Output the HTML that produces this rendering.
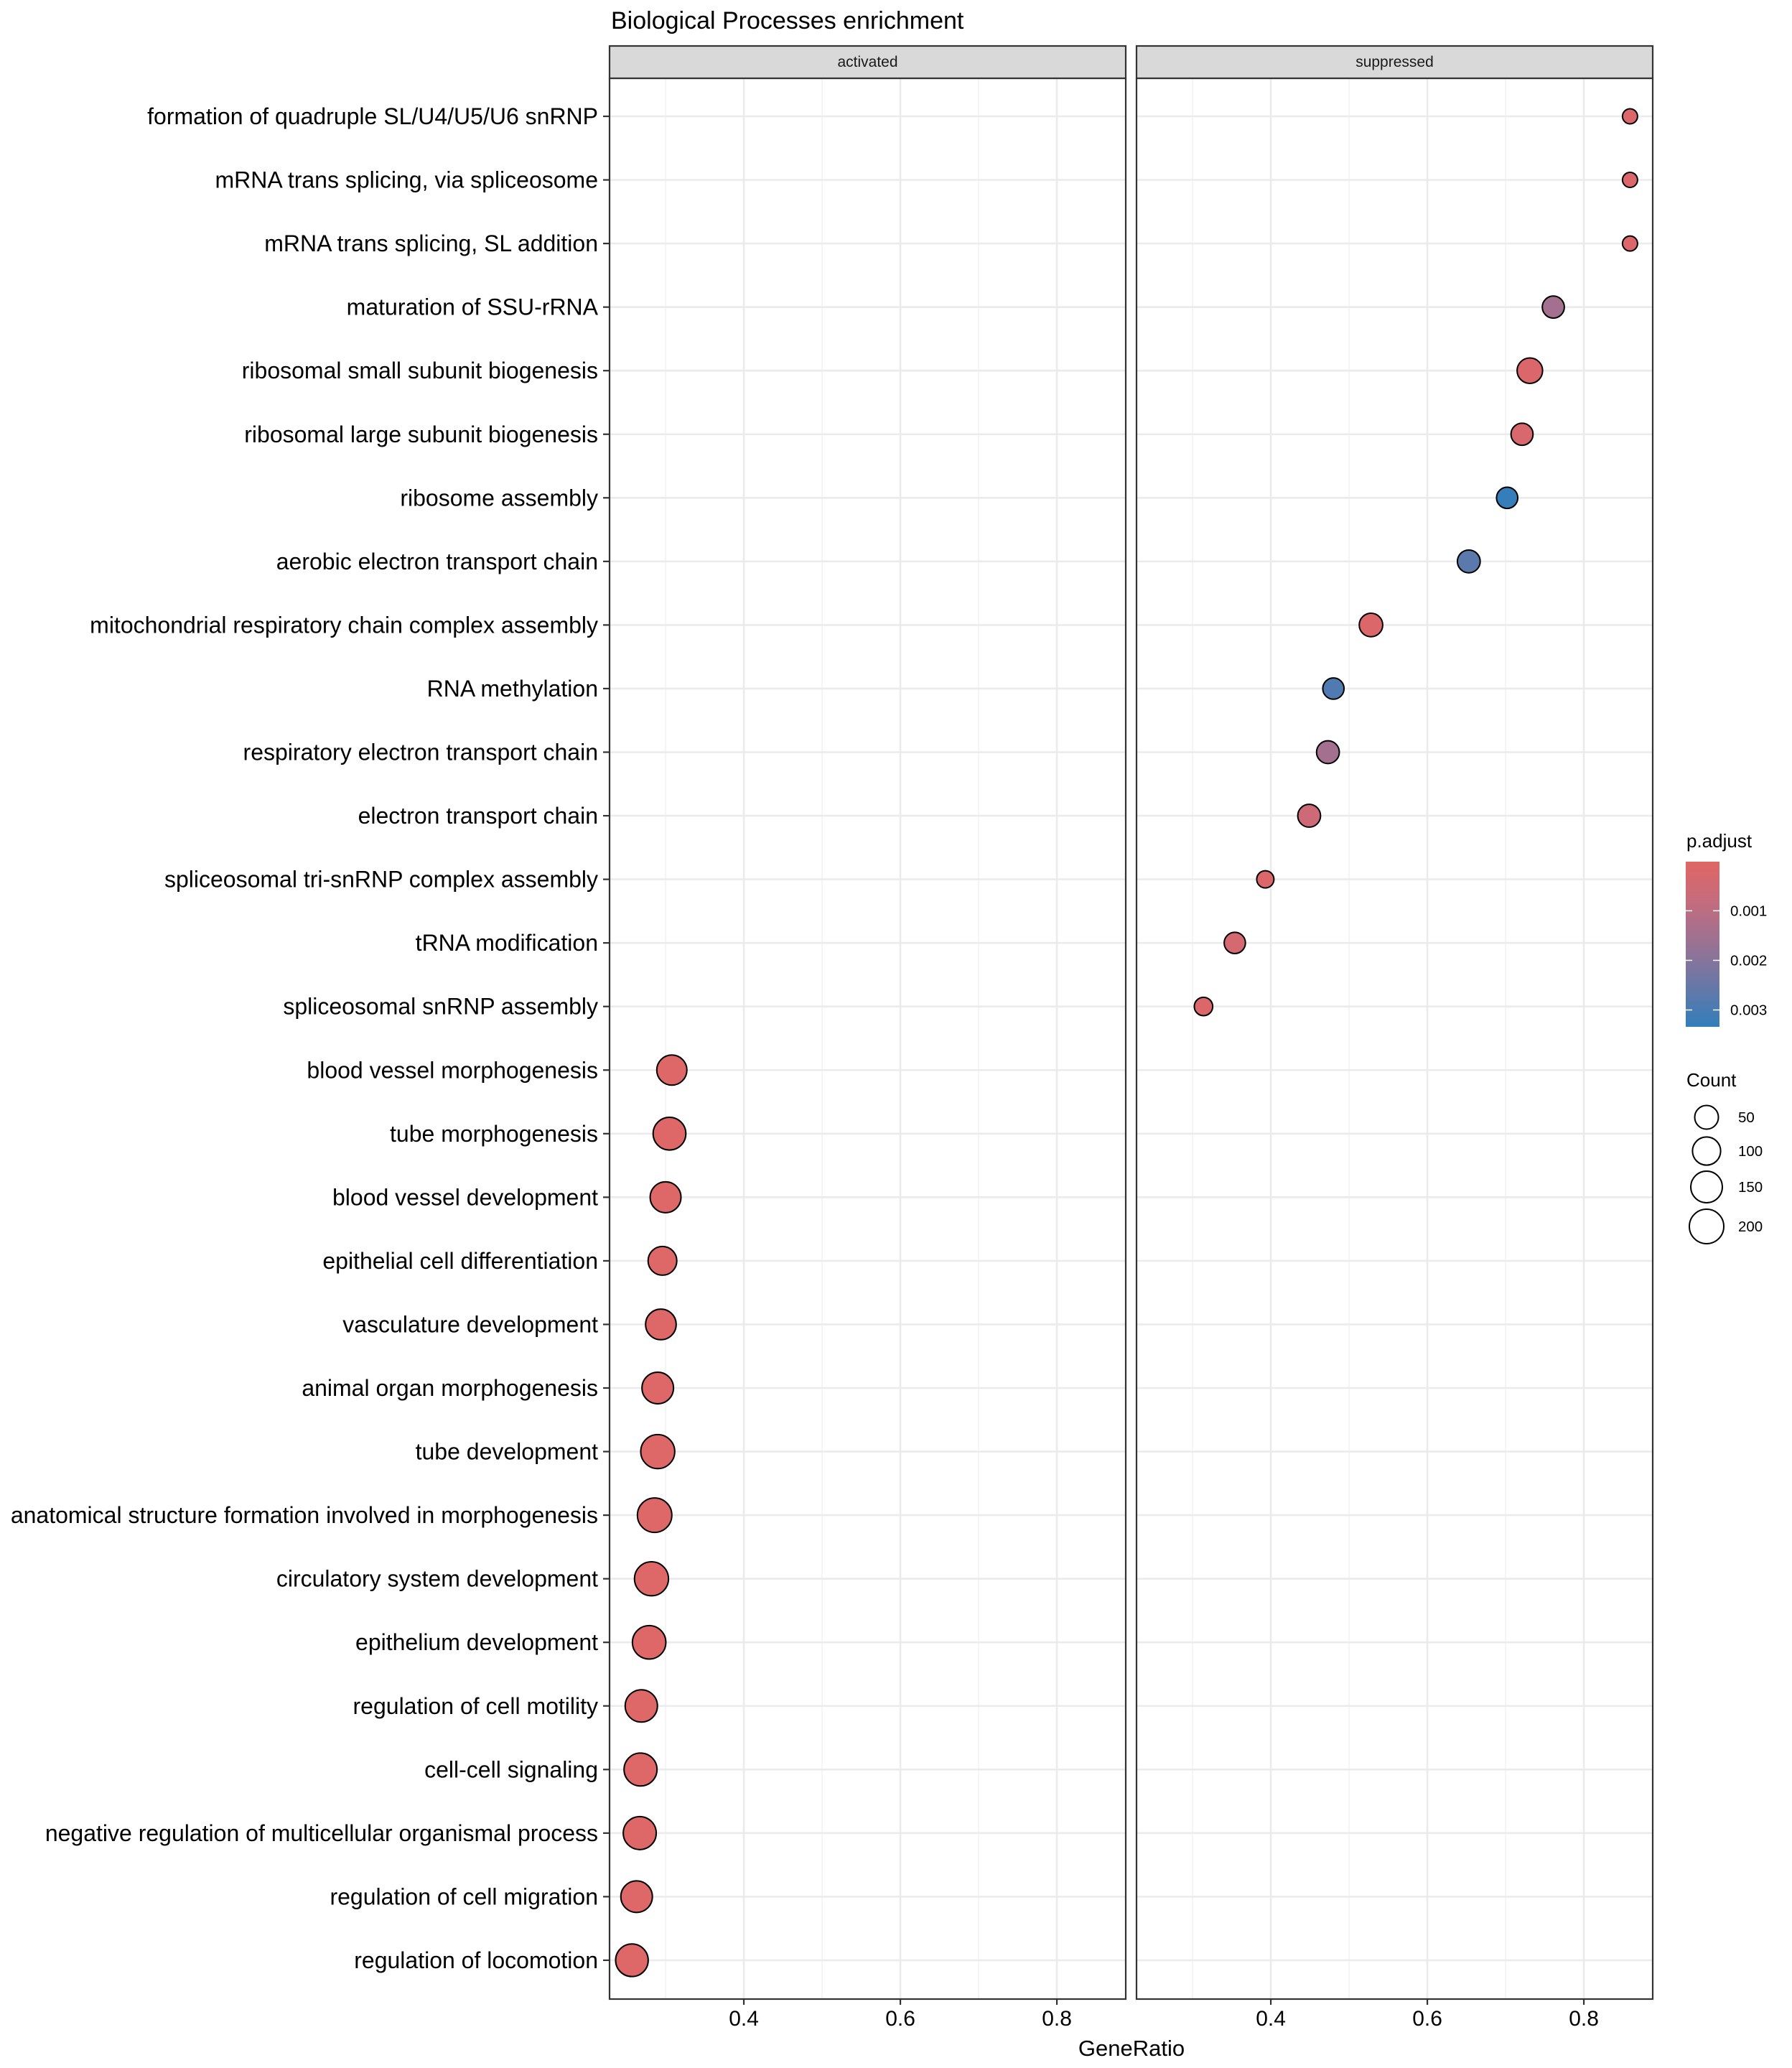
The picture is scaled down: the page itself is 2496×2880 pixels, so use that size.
<!DOCTYPE html>
<html><head><meta charset="utf-8"><style>
html,body{margin:0;padding:0;background:#fff;}
svg{display:block;font-family:"Liberation Sans",Arial,sans-serif;}
</style></head><body>
<svg id="chart" width="2496" height="2880" viewBox="0 0 2496 2880" xmlns="http://www.w3.org/2000/svg">
<text x="851" y="40" font-size="34" fill="#000">Biological Processes enrichment</text>
<g id="panels"></g>
<g id="legend"></g>
<text x="1576" y="2863" font-size="31" text-anchor="middle" fill="#000">GeneRatio</text>
</svg>
<script>
const terms = ["formation of quadruple SL/U4/U5/U6 snRNP","mRNA trans splicing, via spliceosome","mRNA trans splicing, SL addition","maturation of SSU-rRNA","ribosomal small subunit biogenesis","ribosomal large subunit biogenesis","ribosome assembly","aerobic electron transport chain","mitochondrial respiratory chain complex assembly","RNA methylation","respiratory electron transport chain","electron transport chain","spliceosomal tri-snRNP complex assembly","tRNA modification","spliceosomal snRNP assembly","blood vessel morphogenesis","tube morphogenesis","blood vessel development","epithelial cell differentiation","vasculature development","animal organ morphogenesis","tube development","anatomical structure formation involved in morphogenesis","circulatory system development","epithelium development","regulation of cell motility","cell-cell signaling","negative regulation of multicellular organismal process","regulation of cell migration","regulation of locomotion"];
const groups = ["suppressed","suppressed","suppressed","suppressed","suppressed","suppressed","suppressed","suppressed","suppressed","suppressed","suppressed","suppressed","suppressed","suppressed","suppressed","activated","activated","activated","activated","activated","activated","activated","activated","activated","activated","activated","activated","activated","activated","activated"];
const geneRatio = [0.859,0.859,0.859,0.761,0.731,0.721,0.702,0.653,0.528,0.480,0.473,0.449,0.393,0.354,0.314,0.308,0.305,0.300,0.296,0.294,0.290,0.290,0.286,0.282,0.279,0.269,0.268,0.267,0.263,0.257];
const counts = [2,2,2,36,68,36,30,42,48,30,42,42,8,30,13,128,170,139,108,135,150,192,200,192,182,162,174,174,150,167];
const pAdjust = [0.0002,0.0002,0.0002,0.0015,0.0002,0.0003,0.0033,0.0027,0.0002,0.0029,0.0015,0.0006,0.0002,0.0004,0.0002,0.0001,0.0001,0.0001,0.0001,0.0001,0.0001,0.0001,0.0001,0.0001,0.0001,0.0001,0.0001,0.0001,0.0001,0.0001];
const facets = ["activated","suppressed"];
const xTicks = [0.4,0.6,0.8];
const xMinor = [0.3,0.5,0.7];
const colorTicks = [0.001,0.002,0.003];
const sizeBreaks = [50,100,150,200];

const NS="http://www.w3.org/2000/svg";
const panelsG=document.getElementById('panels');
const legendG=document.getElementById('legend');
function el(tag,attrs,parent){const e=document.createElementNS(NS,tag);for(const k in attrs)e.setAttribute(k,attrs[k]);parent.appendChild(e);return e;}
const panelLefts=[849,1583], panelW=719, pTop=109, pBottom=2784, stripTop=64;
const xDom=[0.2284,0.888];
function xScale(v,pi){return panelLefts[pi]+(v-xDom[0])/(xDom[1]-xDom[0])*panelW;}
function yScale(i){return 162+i*88.55;}
function rScale(c){return 9+1.06*Math.sqrt(c);}
const pLim=[0.00001,0.00334];
function colScale(p){let t=(p-pLim[0])/(pLim[1]-pLim[0]);t=Math.max(0,Math.min(1,t));
 const a=[224,102,99],b=[50,126,186];
 const tr=Math.pow(t,1.3), tg=t, tb=Math.pow(t,0.85);
 const tt=[tr,tg,tb];
 return 'rgb('+a.map((v,k)=>Math.round(v+(b[k]-v)*tt[k])).join(',')+')';}

facets.forEach((f,pi)=>{
  const L=panelLefts[pi];
  const g=el('g',{},panelsG);
  
  
  const bg=el('rect',{x:L,y:pTop,width:panelW,height:pBottom-pTop,fill:'#fff'},g);
  
  
  xMinor.forEach(v=>{const l=el('line',{x1:xScale(v,pi),x2:xScale(v,pi),y1:pTop,y2:pBottom,stroke:'#f0f0f0','stroke-width':1.3},g);
    
    });
  xTicks.forEach(v=>{const l=el('line',{x1:xScale(v,pi),x2:xScale(v,pi),y1:pTop,y2:pBottom,stroke:'#ebebeb','stroke-width':2.6},g);
    
    });
  terms.forEach((t,i)=>{const l=el('line',{x1:L,x2:L+panelW,y1:yScale(i),y2:yScale(i),stroke:'#ebebeb','stroke-width':2.6},g);
    
    });
  terms.forEach((t,i)=>{
    if(groups[i]!==f)return;
    const c=el('circle',{cx:xScale(geneRatio[i],pi),cy:yScale(i),r:rScale(counts[i]),fill:colScale(pAdjust[i]),stroke:'#000','stroke-width':2},g);
    
    
  });
  const br=el('rect',{x:L,y:pTop,width:panelW,height:pBottom-pTop,fill:'none',stroke:'#333','stroke-width':2.2},g);
  
  
  const st=el('rect',{x:L,y:stripTop,width:panelW,height:pTop-stripTop,fill:'#d9d9d9',stroke:'#333','stroke-width':2.2},g);
  
  
  const stt=el('text',{x:L+panelW/2,y:93,'font-size':21,'text-anchor':'middle',fill:'#1a1a1a'},g);
  stt.textContent=f;
  
  
  xTicks.forEach(v=>{
    const tk=el('line',{x1:xScale(v,pi),x2:xScale(v,pi),y1:pBottom,y2:pBottom+8,stroke:'#333','stroke-width':2.2},g);
    
    
    const tl=el('text',{x:xScale(v,pi),y:2821,'font-size':30,'text-anchor':'middle',fill:'#000'},g);
    tl.textContent=v.toFixed(1);
    
    
  });
});
terms.forEach((t,i)=>{
  const tk=el('line',{x1:840,x2:849,y1:yScale(i),y2:yScale(i),stroke:'#333','stroke-width':2.2},panelsG);
  
  
  const tx=el('text',{x:833,y:yScale(i)+11,'font-size':32,'text-anchor':'end',fill:'#000'},panelsG);
  tx.textContent=t;
  
  
});
const lt=el('text',{x:2349,y:1180,'font-size':26,fill:'#000'},legendG);
lt.textContent='p.adjust';


const defs=el('defs',{},legendG);
const grad=el('linearGradient',{id:'pgrad',x1:0,y1:0,x2:0,y2:1},defs);
[0,0.25,0.5,0.75,1].forEach(s=>{
  el('stop',{offset:(s*100)+'%','stop-color':colScale(pLim[0]+s*(pLim[1]-pLim[0]))},grad);
});
const cbTop=1200,cbBot=1430;
const cb=el('rect',{x:2348,y:cbTop,width:47,height:cbBot-cbTop,fill:'url(#pgrad)'},legendG);


function cbY(p){return cbTop+(p-pLim[0])/(pLim[1]-pLim[0])*(cbBot-cbTop);}
colorTicks.forEach(p=>{
  const y=cbY(p);
  el('line',{x1:2348,x2:2357,y1:y,y2:y,stroke:'#fff','stroke-width':1.5},legendG);
  el('line',{x1:2386,x2:2395,y1:y,y2:y,stroke:'#fff','stroke-width':1.5},legendG);
  const t=el('text',{x:2410,y:y+7,'font-size':20.5,fill:'#000'},legendG);
  t.textContent=p.toFixed(3);
  
  
});
const ct=el('text',{x:2349,y:1513,'font-size':26,fill:'#000'},legendG);
ct.textContent='Count';


const sizeY=[1556,1603,1653,1708];
sizeBreaks.forEach((c,k)=>{
  const ci=el('circle',{cx:2377,cy:sizeY[k],r:rScale(c),fill:'none',stroke:'#000','stroke-width':2},legendG);
  
  
  const t=el('text',{x:2421,y:sizeY[k]+7,'font-size':20.5,fill:'#000'},legendG);
  t.textContent=c;
  
  
});
</script>
</body></html>
